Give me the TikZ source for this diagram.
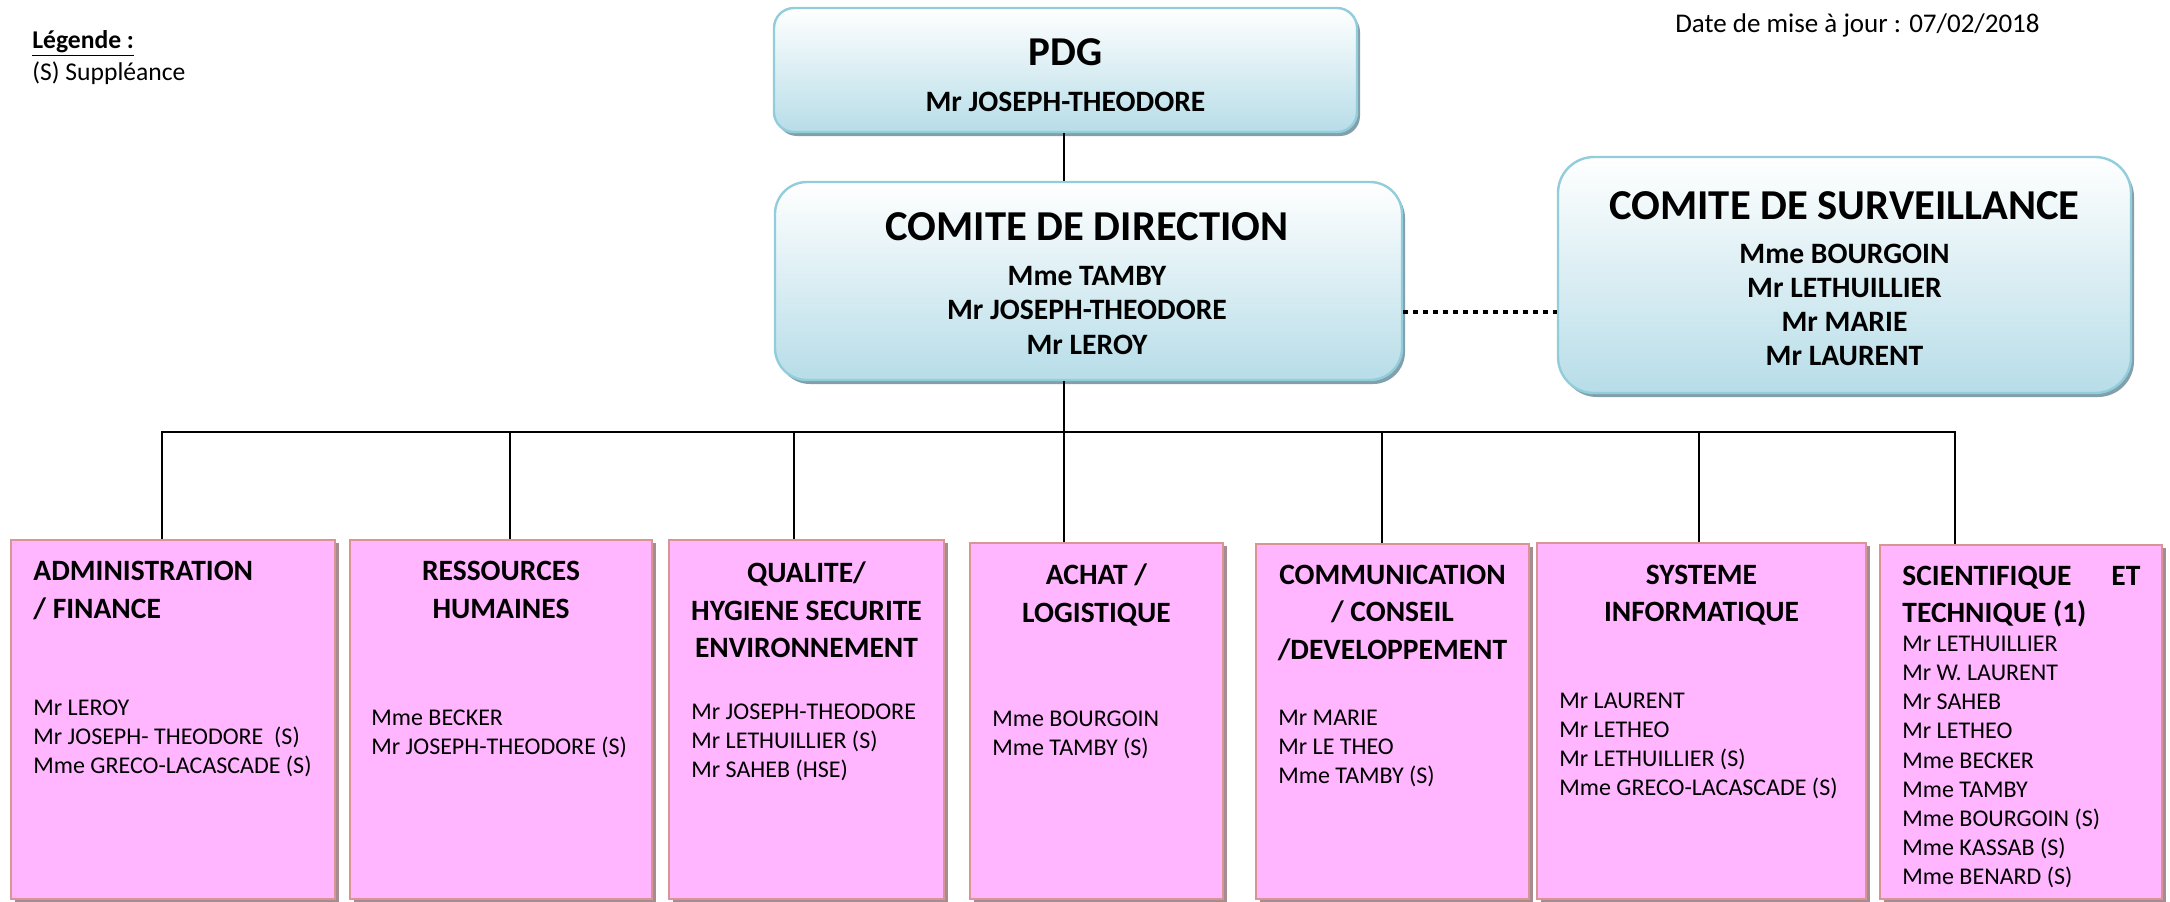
\documentclass[tikz,border=0pt]{standalone}
\usepackage{fontspec}
\setmainfont{Carlito}
\usetikzlibrary{shadows}
\definecolor{cdfill}{RGB}{183,221,232}
\definecolor{cdline}{RGB}{146,205,220}
\definecolor{cdshadow}{RGB}{130,160,170}
\definecolor{dpfill}{RGB}{255,182,255}
\definecolor{dpline}{RGB}{217,149,148}
\definecolor{dpshadow}{RGB}{165,140,145}
\tikzset{
  chef/.style={draw=cdline, line width=1.2pt, top color=white, bottom color=cdfill,
    drop shadow={shadow xshift=1.5pt, shadow yshift=-2pt, fill=cdshadow, opacity=1}},
  cheftxt/.style={font=\bfseries\fontsize{14.8}{17.3}\selectfont, align=center, inner sep=0pt, anchor=north},
  dept/.style={draw=dpline, line width=1pt, fill=dpfill,
    drop shadow={shadow xshift=1.8pt, shadow yshift=-1.5pt, fill=dpshadow, opacity=1}},
  titre/.style={font=\bfseries\fontsize{14.75}{18.8}\selectfont, inner sep=0pt},
  noms/.style={font=\fontsize{12}{14.6}\selectfont, align=left, inner sep=0pt, anchor=north west},
  lien/.style={line width=0.8pt, black}
}
\begin{document}
\begin{tikzpicture}[x=0.5pt,y=-0.5pt]
\def\u{0.5pt}
\useasboundingbox (0,0) rectangle (2170,901);
%legende et date
\node[anchor=base west, inner sep=0pt, font=\bfseries\fontsize{12.8}{14}\selectfont] (legende) at (32,48) {\underline{Légende :}};
\node[anchor=base west, inner sep=0pt, font=\fontsize{12.8}{14}\selectfont] (suppl) at (32,80) {(S) Suppléance};
\node[anchor=base east, inner sep=0pt, font=\fontsize{13.5}{15}\selectfont] (maj) at (2040,32) {Date de mise à jour : 07/02/2018};

%direction
\node[chef, rounded corners=10pt, minimum width=583*\u, minimum height=124*\u] (pdg) at (1065.5,70) {};
\node[cheftxt, font=\bfseries\fontsize{14.8}{22.7}\selectfont] (pdgtxt) at (1065.5,38.5)
  {{\fontsize{20.5}{22.7}\selectfont PDG}\\Mr JOSEPH-THEODORE};
\node[chef, rounded corners=16pt, minimum width=627*\u, minimum height=198*\u] (cd) at (1088.5,281) {};
\node[cheftxt] (cdtxt) at (1087,212.5)
  {{\fontsize{21.3}{22}\selectfont COMITE DE DIRECTION}\\[4.9pt]Mme TAMBY\\Mr JOSEPH-THEODORE\\Mr LEROY};
\node[chef, rounded corners=18pt, minimum width=573*\u, minimum height=236*\u] (cs) at (1844.5,275) {};
\node[cheftxt, font=\bfseries\fontsize{14.8}{17.1}\selectfont] (cstxt) at (1844.5,191.5)
  {{\fontsize{21.3}{22}\selectfont COMITE DE SURVEILLANCE}\\[4.65pt]Mme BOURGOIN\\Mr LETHUILLIER\\Mr MARIE\\Mr LAURENT};
\coordinate (liaison) at (1480,312);
\draw[line width=2.4pt, dash pattern=on 2.4pt off 2.6pt] (cd.east |- liaison) -- (cs.west |- liaison);

%services
\node[dept, minimum width=324*\u, minimum height=359*\u] (admin) at (173,719.5) {};
\node[dept, minimum width=302*\u, minimum height=359*\u] (rh) at (501,719.5) {};
\node[dept, minimum width=275*\u, minimum height=359*\u] (qhse) at (806.5,719.5) {};
\node[dept, minimum width=253*\u, minimum height=356*\u] (achat) at (1096.5,721) {};
\node[dept, minimum width=273*\u, minimum height=355*\u] (comm) at (1392.5,721.5) {};
\node[dept, minimum width=329*\u, minimum height=356*\u] (info) at (1701.5,721) {};
\node[dept, minimum width=282*\u, minimum height=354*\u] (scien) at (2021,722) {};

\node[titre, anchor=north west, align=left] (t1) at (33,560.7) {ADMINISTRATION\\/ FINANCE};
\node[noms] (n1) at (33,699.4) {Mr LEROY\\Mr JOSEPH- THEODORE~~(S)\\Mme GRECO-LACASCADE (S)};
\node[titre, anchor=north, align=center] (t2) at (501,560.7) {RESSOURCES\\HUMAINES};
\node[noms] (n2) at (371,709.4) {Mme BECKER\\Mr JOSEPH-THEODORE (S)};
\node[titre, anchor=north, align=center] (t3) at (806.5,561.5) {QUALITE/\\HYGIENE SECURITE\\ENVIRONNEMENT};
\node[noms] (n3) at (691,703.4) {Mr JOSEPH-THEODORE\\Mr LETHUILLIER (S)\\Mr SAHEB (HSE)};
\node[titre, anchor=north, align=center] (t4) at (1096.5,563.5) {ACHAT /\\LOGISTIQUE};
\node[noms] (n4) at (992,710.4) {Mme BOURGOIN\\Mme TAMBY (S)};
\node[titre, anchor=north, align=center] (t5) at (1392.5,564.5) {COMMUNICATION\\/ CONSEIL\\/DEVELOPPEMENT};
\node[noms] (n5) at (1278,709.4) {Mr MARIE\\Mr LE THEO\\Mme TAMBY (S)};
\node[titre, anchor=north, align=center] (t6) at (1701.5,564.5) {SYSTEME\\INFORMATIQUE};
\node[noms] (n6) at (1559,692.4) {Mr LAURENT\\Mr LETHEO\\Mr LETHUILLIER (S)\\Mme GRECO-LACASCADE (S)};
\node[titre, anchor=north west, align=left] (t7) at (1902,565.5) {\makebox[119pt][s]{SCIENTIFIQUE\hfill ET}\\TECHNIQUE (1)};
\node[noms] (n7) at (1902,635.4) {Mr LETHUILLIER\\Mr W. LAURENT\\Mr SAHEB\\Mr LETHEO\\Mme BECKER\\Mme TAMBY\\Mme BOURGOIN (S)\\Mme KASSAB (S)\\Mme BENARD (S)};

%liens
\coordinate (b1) at (162,432);
\coordinate (b2) at (510,432);
\coordinate (b3) at (794,432);
\coordinate (b4) at (1064,432);
\coordinate (b5) at (1382,432);
\coordinate (b6) at (1699,432);
\coordinate (b7) at (1955,432);
\draw[lien] (pdg.south -| b4) -- (cd.north -| b4);
\draw[lien] (cd.south -| b4) -- (b4);
\draw[lien] (b1 |- admin.north) -- (b1) -- (b7) -- (b7 |- scien.north);
\draw[lien] (b2) -- (b2 |- rh.north);
\draw[lien] (b3) -- (b3 |- qhse.north);
\draw[lien] (b4) -- (b4 |- achat.north);
\draw[lien] (b5) -- (b5 |- comm.north);
\draw[lien] (b6) -- (b6 |- info.north);
\end{tikzpicture}
\end{document}
